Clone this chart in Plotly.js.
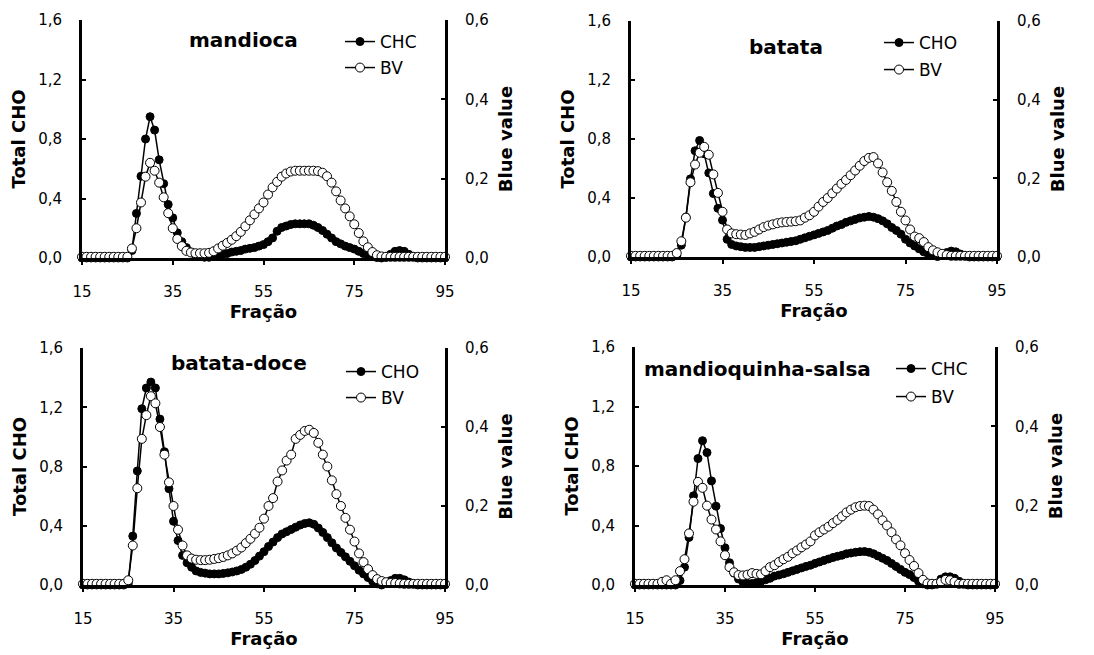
<!DOCTYPE html>
<html>
<head>
<meta charset="utf-8">
<script src="https://cdn.plot.ly/plotly-3.0.1.min.js"></script>
<style>html,body{margin:0;padding:0;background:#fff;}#chart{width:1094px;height:655px;}</style>
</head>
<body>
<div id="chart"></div>
<script>
const fraction = [15,16,17,18,19,20,21,22,23,24,25,26,27,28,29,30,31,32,33,34,35,36,37,38,39,40,41,42,43,44,45,46,47,48,49,50,51,52,53,54,55,56,57,58,59,60,61,62,63,64,65,66,67,68,69,70,71,72,73,74,75,76,77,78,79,80,81,82,83,84,85,86,87,88,89,90,91,92,93,94,95];
const xTicks = [15,35,55,75,95];
const panelLabels = ["mandioca","batata","batata-doce","mandioquinha-salsa"];
const choNames = ["CHC","CHO","CHO","CHC"];
const bvName = "BV";
const leftTitle = "Total CHO";
const rightTitle = "Blue value";
const xTitle = "Fração";

const mandiocaCHO = [0,0,0,0,0,0,0,0,0,0,0, 0.05,0.30,0.55,0.80,0.95,0.86,0.66,0.50,0.36,0.27, 0.17,0.11,0.07,0.04,0.02,0.01,0.005,0.005,0.01,0.015, 0.025,0.03,0.04,0.045,0.05,0.06,0.065,0.07,0.08,0.09, 0.11,0.135,0.18,0.205,0.215,0.225,0.23,0.23,0.23,0.23, 0.22,0.205,0.185,0.16,0.135,0.11,0.095,0.08,0.07,0.06, 0.045,0.03,0.02,0.01,0.003,0,0.005,0.025,0.045,0.05, 0.045,0.025,0.01,0,0,0,0,0,0,0];
const mandiocaBV = [0.003,0.003,0.003,0.003,0.003,0.003,0.003,0.003,0.003,0.003,0.003, 0.024,0.075,0.14,0.205,0.24,0.22,0.19,0.153,0.113,0.075, 0.048,0.03,0.018,0.014,0.012,0.012,0.012,0.013,0.017,0.024, 0.031,0.038,0.046,0.055,0.066,0.08,0.095,0.11,0.125,0.14, 0.16,0.178,0.192,0.205,0.213,0.218,0.22,0.22,0.22,0.22, 0.22,0.219,0.215,0.206,0.19,0.168,0.145,0.125,0.105,0.085, 0.063,0.042,0.027,0.015,0.007,0.004,0.003,0.003,0.003,0.003, 0.003,0.003,0.003,0.003,0.003,0.003,0.003,0.003,0.003,0.003];

const batataCHO = [0,0,0,0,0,0,0,0,0,0,0.01, 0.08,0.27,0.53,0.72,0.79,0.7,0.57,0.43,0.33,0.25, 0.12,0.085,0.075,0.07,0.065,0.065,0.065,0.07,0.075,0.08, 0.085,0.09,0.095,0.1,0.105,0.11,0.12,0.13,0.14,0.15, 0.16,0.17,0.18,0.195,0.21,0.22,0.235,0.245,0.255,0.265, 0.27,0.275,0.27,0.26,0.245,0.225,0.2,0.18,0.155,0.12, 0.095,0.075,0.055,0.035,0.018,0.01,0.003,0.015,0.03,0.04, 0.035,0.02,0.008,0,0,0,0,0,0,0];
const batataBV = [0.003,0.003,0.003,0.003,0.003,0.003,0.003,0.003,0.003,0.003,0.01, 0.04,0.1,0.19,0.235,0.265,0.28,0.26,0.21,0.163,0.115, 0.07,0.06,0.058,0.057,0.056,0.06,0.064,0.07,0.076,0.08, 0.083,0.086,0.088,0.089,0.09,0.091,0.093,0.1,0.106,0.115, 0.128,0.14,0.15,0.162,0.174,0.186,0.196,0.208,0.22,0.232, 0.244,0.252,0.254,0.238,0.215,0.19,0.168,0.14,0.115,0.093, 0.07,0.052,0.048,0.038,0.025,0.017,0.012,0.008,0.005,0.003, 0.003,0.003,0.003,0.003,0.003,0.003,0.003,0.003,0.003,0.003];

const doceCHO = [0,0,0,0,0,0,0,0,0,0,0.01, 0.33,0.77,1.19,1.33,1.37,1.33,1.12,0.9,0.65,0.43, 0.3,0.2,0.15,0.12,0.095,0.085,0.08,0.075,0.075,0.075, 0.078,0.082,0.088,0.095,0.105,0.12,0.14,0.165,0.195,0.225, 0.26,0.29,0.32,0.345,0.36,0.375,0.39,0.405,0.415,0.42, 0.41,0.385,0.355,0.32,0.285,0.25,0.22,0.19,0.16,0.13, 0.1,0.075,0.05,0.025,0.008,0,0.01,0.03,0.045,0.045, 0.035,0.02,0.008,0,0,0,0,0,0,0];
const doceBV = [0.003,0.003,0.003,0.003,0.003,0.003,0.003,0.003,0.003,0.003,0.012, 0.1,0.245,0.37,0.43,0.478,0.46,0.4,0.33,0.26,0.2, 0.14,0.1,0.075,0.067,0.064,0.063,0.063,0.064,0.066,0.068, 0.071,0.075,0.08,0.087,0.095,0.106,0.117,0.13,0.145,0.168, 0.2,0.22,0.262,0.29,0.315,0.33,0.37,0.38,0.39,0.393, 0.385,0.36,0.33,0.3,0.265,0.23,0.2,0.17,0.14,0.11, 0.08,0.058,0.04,0.025,0.015,0.01,0.007,0.005,0.005,0.004, 0.003,0.003,0.003,0.003,0.003,0.003,0.003,0.003,0.003,0.003];

const quinhaCHO = [0,0,0,0,0,0,0,0,0,0,0.03, 0.12,0.32,0.6,0.85,0.97,0.89,0.7,0.53,0.38,0.25, 0.15,0.08,0.04,0.02,0.01,0.01,0.015,0.025,0.035,0.045, 0.06,0.067,0.075,0.085,0.095,0.105,0.115,0.125,0.133,0.145, 0.155,0.165,0.175,0.185,0.193,0.2,0.21,0.215,0.22,0.224, 0.225,0.22,0.21,0.195,0.18,0.165,0.145,0.125,0.105,0.085, 0.07,0.05,0.025,0.008,0,0,0.01,0.04,0.055,0.055, 0.045,0.025,0.01,0,0,0,0,0,0,0];
const quinhaBV = [0.003,0.003,0.003,0.003,0.003,0.003,0.008,0.012,0.003,0.012,0.035, 0.065,0.13,0.21,0.26,0.245,0.2,0.165,0.14,0.11,0.075, 0.045,0.032,0.025,0.024,0.026,0.03,0.028,0.027,0.035,0.045, 0.05,0.058,0.065,0.071,0.08,0.087,0.095,0.102,0.11,0.125, 0.133,0.14,0.147,0.156,0.164,0.173,0.183,0.19,0.196,0.199, 0.2,0.199,0.19,0.178,0.163,0.15,0.133,0.115,0.1,0.08, 0.063,0.048,0.03,0.013,0.004,0.003,0.003,0.008,0.013,0.012, 0.008,0.003,0.003,0.003,0.003,0.003,0.003,0.003,0.003,0.003];

const choSeries = [mandiocaCHO, batataCHO, doceCHO, quinhaCHO];
const bvSeries = [mandiocaBV, batataBV, doceBV, quinhaBV];

// layout geometry (pixels in the 1094x655 page)
const W = 1094, H = 655;
const panels = [
  {l:82, r:445, t:20, b:258, lab:[243,40], leg:[340,42,68]},
  {l:631, r:997, t:21, b:257, lab:[786,47], leg:[879,43,70]},
  {l:83, r:445, t:348, b:585, lab:[239,363], leg:[341,372,398]},
  {l:635, r:995, t:347, b:585, lab:[757,369], leg:[891,369,397]}
];
const FONT = 'DejaVu Sans';
const titleFont = {family: FONT, size: 18, weight: 'bold', color: '#000'};
const tickFont = {family: FONT, size: 15, color: '#000'};

const data = [];
const layout = {
  width: W, height: H,
  margin: {l:0, r:0, t:0, b:0},
  showlegend: true,
  paper_bgcolor: '#fff', plot_bgcolor: 'rgba(0,0,0,0)',
  separators: ',.',
  font: {family: FONT, color: '#000'},
  annotations: []
};

panels.forEach((p, i) => {
  const n = i + 1;
  const xa = n === 1 ? 'xaxis' : 'xaxis' + n;
  const xid = n === 1 ? 'x' : 'x' + n;
  const yl = 2 * i + 1, yr = 2 * i + 2;
  const ylKey = yl === 1 ? 'yaxis' : 'yaxis' + yl;
  const ylId = yl === 1 ? 'y' : 'y' + yl;
  const yrKey = 'yaxis' + yr, yrId = 'y' + yr;
  const legL = yl === 1 ? 'legend' : 'legend' + yl;
  const legR = 'legend' + yr;
  const xd = [p.l / W, p.r / W];
  const yd = [1 - p.b / H, 1 - p.t / H];

  layout[xa] = {
    domain: xd, anchor: ylId, range: [15, 95], tickvals: xTicks,
    ticks: 'outside', ticklen: 4, tickwidth: 2, tickcolor: '#000',
    showline: true, linewidth: 2.5, linecolor: '#000',
    showgrid: false, zeroline: false, tickfont: tickFont,
    ticklabelstandoff: 14,
    title: {text: xTitle, font: titleFont, standoff: 6}
  };
  layout[ylKey] = {
    domain: yd, anchor: xid, range: [0, 1.6], dtick: 0.4, tick0: 0, tickformat: '.1f',
    ticks: 'inside', ticklen: 4, tickwidth: 2, tickcolor: '#000',
    showline: true, linewidth: 3, linecolor: '#000',
    showgrid: false, zeroline: false, tickfont: tickFont,
    ticklabelstandoff: 14,
    title: {text: leftTitle, font: titleFont, standoff: 8}
  };
  layout[yrKey] = {
    overlaying: ylId, side: 'right', anchor: xid, range: [0, 0.6], dtick: 0.2, tick0: 0, tickformat: '.1f',
    ticks: 'inside', ticklen: 4, tickwidth: 2, tickcolor: '#000',
    showline: true, linewidth: 3, linecolor: '#000',
    showgrid: false, zeroline: false, tickfont: tickFont,
    ticklabelstandoff: 14,
    title: {text: rightTitle, font: titleFont, standoff: 12}
  };

  const legCommon = {
    xref: 'paper', yref: 'paper', xanchor: 'left', yanchor: 'middle',
    bgcolor: 'rgba(0,0,0,0)', borderwidth: 0, visible: true,
    font: {family: FONT, size: 17, color: '#000'}, itemwidth: 30
  };
  layout[legL] = Object.assign({}, legCommon, {x: p.leg[0] / W, y: 1 - p.leg[1] / H});
  layout[legR] = Object.assign({}, legCommon, {x: p.leg[0] / W, y: 1 - p.leg[2] / H});

  data.push({
    type: 'scatter', mode: 'lines+markers', name: choNames[i], showlegend: true,
    x: fraction, y: choSeries[i], xaxis: xid, yaxis: ylId, legend: legL,
    line: {color: '#000', width: 1.5},
    marker: {symbol: 'circle', size: 8, color: '#000', line: {color: '#000', width: 1}},
    cliponaxis: false
  });
  data.push({
    type: 'scatter', mode: 'lines+markers', name: bvName, showlegend: true,
    x: fraction, y: bvSeries[i], xaxis: xid, yaxis: yrId, legend: legR,
    line: {color: '#000', width: 1.5},
    marker: {symbol: 'circle', size: 9, color: '#fff', line: {color: '#000', width: 1}},
    cliponaxis: false
  });

  layout.annotations.push({
    xref: 'paper', yref: 'paper', x: p.lab[0] / W, y: 1 - p.lab[1] / H,
    xanchor: 'center', yanchor: 'middle', showarrow: false,
    text: panelLabels[i], font: {family: FONT, size: 20, weight: 'bold', color: '#000'}
  });
});

Plotly.newPlot('chart', data, layout, {staticPlot: true, displayModeBar: false});
</script>
</body>
</html>
